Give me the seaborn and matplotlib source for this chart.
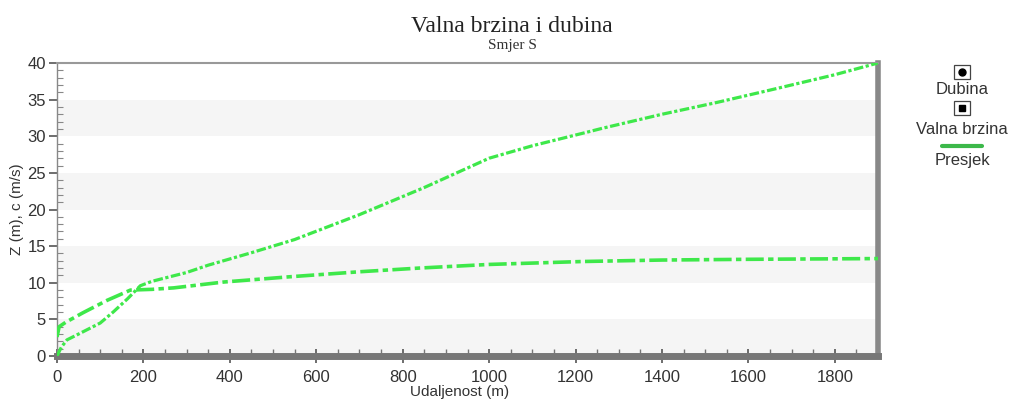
import numpy as np
import pandas as pd
import matplotlib
matplotlib.use("Agg")
import matplotlib.pyplot as plt
from matplotlib.lines import Line2D
from matplotlib.patches import Rectangle
import seaborn as sns

# Data
depth_x = [0, 10, 23, 50, 100, 130, 163, 193, 220, 300, 350, 450, 550, 700, 850, 1000,
           1100, 1216, 1263, 1400, 1526, 1650, 1800, 1900]
depth_y = [0, 1.2, 2.2, 3.0, 4.5, 6.0, 7.8, 9.6, 10.2, 11.4, 12.4, 14.1, 15.9, 19.3, 23.0, 27.0,
           28.7, 30.4, 31.1, 33.0, 34.6, 36.3, 38.4, 40.0]

speed_x = [0, 5, 20, 60, 116, 170, 220, 270, 386, 450, 535, 700, 837, 1000, 1216, 1400,
           1600, 1900]
speed_y = [2.6, 4.0, 4.6, 5.9, 7.6, 9.0, 9.1, 9.3, 10.1, 10.4, 10.8, 11.5, 12.0, 12.5, 12.9, 13.1,
           13.2, 13.3]

title = "Valna brzina i dubina"
subtitle = "Smjer S"
xlabel = "Udaljenost (m)"
ylabel = "Z (m), c (m/s)"
legend_labels = ["Dubina", "Valna brzina", "Presjek"]

sns.set_theme(style="white")
plt.rcParams['font.family'] = ['Liberation Sans', 'DejaVu Sans']

fig = plt.figure(figsize=(10.14, 4.03), dpi=100)
ax = fig.add_axes([57/1014, 1 - 356/403, (878-57)/1014, (356-63)/403])

for lo in [0, 10, 20, 30]:
    ax.axhspan(lo, lo + 5, color='#f5f5f5', zorder=0, lw=0)

green = '#3ee84a'
df_d = pd.DataFrame({"x": depth_x, "y": depth_y})
df_s = pd.DataFrame({"x": speed_x, "y": speed_y})
sns.lineplot(data=df_d, x="x", y="y", ax=ax, color=green, lw=2.3,
             linestyle=(0, (3, 0.8, 1, 0.8)), sort=False, zorder=3)
sns.lineplot(data=df_s, x="x", y="y", ax=ax, color=green, lw=2.6,
             linestyle=(0, (5, 1.2, 1.5, 1.2)), sort=False, zorder=3)

ax.set_xlim(0, 1900)
ax.set_ylim(0, 40)
ax.set_xticks(np.arange(0, 1801, 200))
ax.set_yticks(np.arange(0, 41, 5))
ax.set_xticks(np.arange(0, 1900, 50), minor=True)
ax.set_yticks(np.arange(0, 41, 1), minor=True)
ax.tick_params(axis='x', which='major', direction='inout', length=10, width=1.2,
               color='#555555', labelsize=12, labelcolor='#333333', pad=5, bottom=True)
ax.tick_params(axis='x', which='minor', direction='in', length=5, width=1,
               color='#777777', bottom=True)
ax.tick_params(axis='y', which='major', direction='out', length=6, width=1.2,
               color='#555555', labelsize=12, labelcolor='#333333', pad=2, left=True)
ax.tick_params(axis='y', which='minor', direction='in', length=4, width=0.8,
               color='#888888', left=True)

ax.set_xlabel(xlabel, fontsize=11, color='#333333')
ax.xaxis.set_label_coords(0.49, -0.1)
ax.set_ylabel(ylabel, fontsize=11, color='#333333', labelpad=2)

ax.spines['top'].set_color('#999999')
ax.spines['top'].set_linewidth(1.5)
ax.spines['left'].set_color('#888888')
ax.spines['left'].set_linewidth(1)
ax.spines['right'].set_color('#888888')
ax.spines['right'].set_linewidth(4)
ax.spines['bottom'].set_color('#777777')
ax.spines['bottom'].set_linewidth(5)

fig.text(512/1014, 1 - 26/403, title, ha='center', va='center',
         fontsize=17, family='Liberation Serif', color='#222222')
fig.text(512/1014, 1 - 46/403, subtitle, ha='center', va='center',
         fontsize=11, family='Liberation Serif', color='#333333')

# Legend (stacked icons above labels)
lx = 962 / 1014
def fy(py):
    return 1 - py / 403
for py, mk in [(72, 'o'), (108, 's')]:
    fig.add_artist(Rectangle((lx - 8/1014, fy(py) - 7/403), 16/1014, 14/403,
                             transform=fig.transFigure, fill=False, ec='#444444', lw=0.9))
    fig.add_artist(Line2D([lx], [fy(py)], marker=mk, color='black', markersize=5,
                          transform=fig.transFigure))
fig.text(lx, fy(90), legend_labels[0], ha='center', va='center', fontsize=12, color='#333333')
fig.text(lx, fy(129), legend_labels[1], ha='center', va='center', fontsize=12, color='#333333')
fig.add_artist(Line2D([lx - 20/1014, lx + 20/1014], [fy(146), fy(146)], color='#3cb84a',
                      lw=3, transform=fig.transFigure))
fig.text(lx, fy(160), legend_labels[2], ha='center', va='center', fontsize=12, color='#333333')

fig.savefig("out.png", dpi=100)
